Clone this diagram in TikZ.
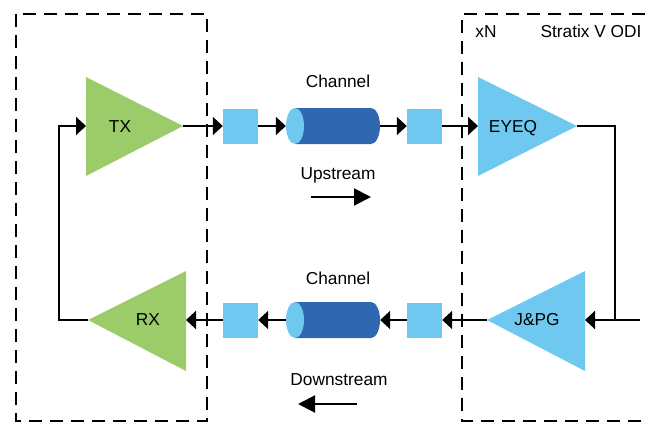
\documentclass[tikz,border=0pt]{standalone}
\usepackage{fontspec}
\setmainfont{Liberation Sans}
\usetikzlibrary{arrows.meta}
\definecolor{ampgreen}{HTML}{9CCC69}
\definecolor{lightblu}{HTML}{6FC8F0}
\definecolor{darkblu}{HTML}{2F67B1}
\tikzset{
  lbl/.style={anchor=base,inner sep=0pt,font=\fontsize{17.3}{20}\selectfont},
  conn/.style={line width=2pt,draw=black},
  arr/.style={conn,-{Triangle[length=10pt,width=18pt]}},
  bigarr/.style={conn,-{Triangle[length=17pt,width=17pt]}},
  frame/.style={line width=2pt,dash pattern=on 13pt off 8pt},
  sqbox/.style={rectangle,fill=lightblu,minimum size=35pt,inner sep=0pt},
  cylbox/.style={rectangle,minimum width=94pt,minimum height=36pt,inner sep=0pt},
  cylpic/.pic={
    \fill[darkblu] (-38,-18) -- (38,-18) arc[start angle=-90,end angle=90,x radius=9,y radius=18] -- (-38,18) -- cycle;
    \fill[lightblu] (-38,0) ellipse[x radius=9,y radius=18];
  },
}
\begin{document}
\begin{tikzpicture}[x=1pt,y=-1pt]
\useasboundingbox (0,0) rectangle (645,423);
% frames
\draw[frame] (16,14) rectangle (207,421);
\draw[frame] (645,14) -- (462,14) -- (462,421) -- (645,421);
\node[lbl] (xn) at (486,37) {xN};
\node[lbl] (odi) at (591,37) {Stratix V ODI};
% TX
\coordinate (txb) at (86,126);
\coordinate (txt) at (183,126);
\fill[ampgreen] (86,77) -- (183,126) -- (86,176) -- cycle;
\node[lbl] (tx) at (120,132) {TX};
% EYEQ
\coordinate (eqb) at (478,126);
\coordinate (eqt) at (577,126);
\fill[lightblu] (478,77) -- (577,126) -- (478,176) -- cycle;
\node[lbl] (eq) at (513,132) {EYEQ};
% RX
\coordinate (rxt) at (88,320);
\coordinate (rxb) at (186,320);
\fill[ampgreen] (186,271) -- (88,320) -- (186,371) -- cycle;
\node[lbl] (rx) at (148,325) {RX};
% J&PG
\coordinate (jpt) at (487,320);
\coordinate (jpb) at (585,320);
\fill[lightblu] (585,271) -- (487,320) -- (585,371) -- cycle;
\node[lbl] (jp) at (537,325) {J\&PG};
% upstream chain
\node[sqbox] (s1) at (240.5,126) {};
\pic at (333,126) {cylpic};
\node[cylbox] (c1) at (333,126) {};
\node[sqbox] (s2) at (424.5,126) {};
\node[lbl] (ch1) at (338,87) {Channel};
\node[lbl] (up) at (338,179) {Upstream};
\draw[arr] (txt) -- (s1.west);
\draw[arr] (s1.east) -- (c1.west);
\draw[arr] (c1.east) -- (s2.west);
\draw[arr] (s2.east) -- (eqb);
\coordinate (ua) at (311,197);
\coordinate (ub) at (371,197);
\draw[bigarr] (ua) -- (ub);
% downstream chain
\node[sqbox] (s3) at (240.5,320) {};
\pic at (333,320) {cylpic};
\node[cylbox] (c2) at (333,320) {};
\node[sqbox] (s4) at (424.5,320) {};
\node[lbl] (ch2) at (338,284) {Channel};
\node[lbl] (dn) at (339,385) {Downstream};
\coordinate (rin) at (640,320);
\coordinate (rj) at (615,320);
\draw[arr] (rin) -- (jpb);
\draw[arr] (jpt) -- (s4.east);
\draw[arr] (s4.west) -- (c2.east);
\draw[arr] (c2.west) -- (s3.east);
\draw[arr] (s3.west) -- (rxb);
\coordinate (da) at (357,404);
\coordinate (db) at (298,404);
\draw[bigarr] (da) -- (db);
% loopbacks
\draw[conn] (eqt) -| (rj);
\draw[arr] (rxt) -- ++(-29,0) |- (txb);
\end{tikzpicture}
\end{document}
